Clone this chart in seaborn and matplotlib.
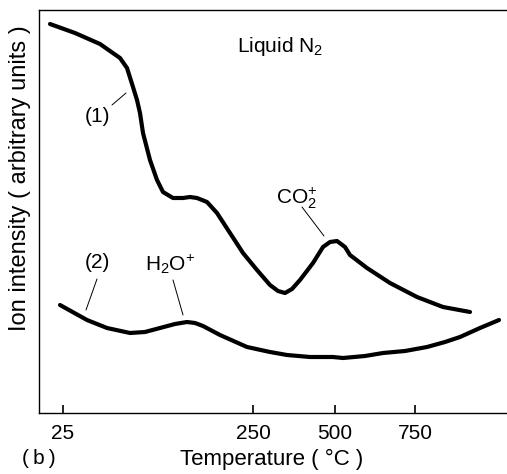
import matplotlib
matplotlib.use("Agg")
import matplotlib.pyplot as plt
import seaborn as sns
import pandas as pd

# ---- data (scan position, arbitrary intensity) ----
curve1_x = [11, 36, 61, 81, 88, 94, 98, 101, 104, 111, 118, 124, 134, 144, 151, 158,
            168, 178, 191, 204, 218, 231, 239, 246, 253, 261, 274, 284, 291, 298, 306,
            311, 328, 351, 378, 404, 431]
curve1_y = [389, 380, 369, 355, 345, 326, 313, 300, 280, 253, 233, 221, 215, 215, 216, 215,
            211, 200, 180, 160, 143, 128, 122, 120, 124, 133, 150, 166, 171, 172, 166,
            158, 145, 130, 116, 106, 101]
curve2_x = [21, 48, 68, 91, 106, 121, 136, 148, 156, 164, 181, 208, 231, 248, 271, 294,
            304, 326, 344, 366, 388, 406, 421, 441, 460]
curve2_y = [108, 93, 85, 80, 81, 85, 89, 91, 90, 87, 78, 66, 61, 58, 56, 56,
            55, 57, 60, 62, 66, 71, 76, 85, 93]
tick_positions = [24, 214, 296, 376]
tick_labels = ["25", "250", "500", "750"]

sns.set_theme(style="white")
plt.rcParams["font.family"] = ["Liberation Sans", "DejaVu Sans"]
plt.rcParams["text.color"] = "black"
plt.rcParams["axes.labelcolor"] = "black"
plt.rcParams["xtick.color"] = "black"
plt.rcParams["mathtext.fontset"] = "custom"
plt.rcParams["mathtext.rm"] = "Liberation Sans"
plt.rcParams["mathtext.it"] = "Liberation Sans:italic"
plt.rcParams["mathtext.bf"] = "Liberation Sans:bold"

FS = 15
W, H = 507, 474
fig = plt.figure(figsize=(W / 100, H / 100), dpi=100)
ax = fig.add_axes([39 / W, 1 - 413 / H, 468 / W, 403 / H])

df1 = pd.DataFrame({"x": curve1_x, "y": curve1_y})
df2 = pd.DataFrame({"x": curve2_x, "y": curve2_y})
sns.lineplot(data=df1, x="x", y="y", ax=ax, color="black", linewidth=3.0, sort=False,
             solid_capstyle="round", solid_joinstyle="round")
sns.lineplot(data=df2, x="x", y="y", ax=ax, color="black", linewidth=3.0, sort=False,
             solid_capstyle="round", solid_joinstyle="round")

ax.set_xlim(0, 468)
ax.set_ylim(0, 403)
ax.set_yticks([])
ax.set_xticks(tick_positions)
ax.set_xticklabels(tick_labels, fontsize=FS, color="black")
ax.tick_params(axis="x", direction="in", length=6, width=1.2, color="black",
               pad=8, bottom=True, top=False)
for s in ["left", "bottom", "top"]:
    ax.spines[s].set_visible(True)
    ax.spines[s].set_color("black")
    ax.spines[s].set_linewidth(1.0)
ax.spines["right"].set_visible(False)

ax.set_xlabel("Temperature ( °C )", fontsize=FS + 1, color="black")
ax.xaxis.set_label_coords(0.496, -0.114)
ax.xaxis.label.set_va("center")
ax.set_ylabel("Ion intensity ( arbitrary units )", fontsize=FS + 2, color="black")
ax.yaxis.set_label_coords(-0.041, 0.583)
ax.yaxis.label.set_va("center")

fig.text(39 / W, 1 - 458 / H, "(\u2009b\u2009)", fontsize=FS, ha="center", va="center",
         color="black")

ax.text(198, 366, r"Liquid N$_\mathregular{2}$", fontsize=FS, ha="left", va="center")

lk = dict(arrowstyle="-", color="black", lw=0.7, shrinkA=0, shrinkB=0)
ax.annotate("", xy=(87, 320), xytext=(73, 308), arrowprops=lk)
ax.text(59, 296, "(1)", fontsize=FS, ha="center", va="center")
ax.annotate("", xy=(47, 103), xytext=(58, 134), arrowprops=lk)
ax.text(58, 151, "(2)", fontsize=FS, ha="center", va="center")
ax.annotate("", xy=(144, 98), xytext=(134, 133), arrowprops=lk)
ax.text(131, 149, r"H$_\mathregular{2}$O$^\mathregular{+}$", fontsize=FS, ha="center", va="center")
ax.annotate("", xy=(285, 177), xytext=(263, 206), arrowprops=lk)
ax.text(258, 215, r"CO$_\mathregular{2}^\mathregular{+}$", fontsize=FS, ha="center", va="center")

fig.savefig("out.png", dpi=100)
